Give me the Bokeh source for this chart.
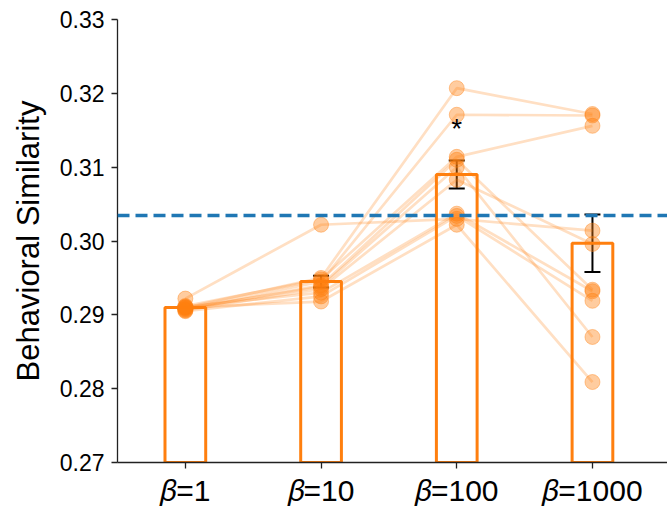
from bokeh.plotting import figure
from bokeh.models import Range1d, FixedTicker, Span, Whisker, ColumnDataSource, TeeHead, Label
from bokeh.embed import file_html
from bokeh.resources import INLINE

# ---- data ----
categories = ["𝛽=1", "𝛽=10", "𝛽=100", "𝛽=1000"]
beta1 = [0.2922, 0.2910, 0.2908, 0.2912, 0.2907, 0.2909, 0.2906, 0.2911, 0.2905, 0.2910]
beta10 = [0.3022, 0.2950, 0.2945, 0.2948, 0.2940, 0.2938, 0.2935, 0.2930, 0.2925, 0.2918]
beta100 = [0.3030, 0.3207, 0.3171, 0.3114, 0.3110, 0.3100, 0.3083, 0.3037, 0.3034, 0.3022]
beta1000 = [0.3014, 0.3172, 0.3170, 0.3156, 0.2934, 0.2870, 0.2996, 0.2932, 0.2919, 0.2809]
bar_means = [0.2910, 0.2945, 0.3090, 0.2997]
bar_errs = [0.0001, 0.0008, 0.0019, 0.0039]
baseline = 0.30344
sig_labels = ["", "", "*", ""]
sig_y = [0.3152, 0.3152, 0.3152, 0.3152]
y_ticks = [0.27, 0.28, 0.29, 0.30, 0.31, 0.32, 0.33]

ORANGE = "#ff7f0e"
BLUE = "#1f77b4"
FONT = "Liberation Sans"

xpos = list(range(len(categories)))
groups = [beta1, beta10, beta100, beta1000]

p = figure(width=667, height=516, output_backend="svg", toolbar_location=None,
           x_range=Range1d(-0.5, 3.553), y_range=Range1d(0.27, 0.33),
           min_border_left=117, min_border_right=0, min_border_top=19, min_border_bottom=54)
p.outline_line_color = None
p.grid.visible = False
p.background_fill_color = "white"
p.border_fill_color = "white"

# subject lines
n = len(beta1)
xs = [xpos for _ in range(n)]
ys = [[g[i] for g in groups] for i in range(n)]
p.multi_line(xs=xs, ys=ys, line_color=ORANGE, line_alpha=0.25, line_width=2.7)

# bars
p.vbar(x=xpos, top=bar_means, bottom=0.0, width=0.3, fill_color=None,
       line_color=ORANGE, line_width=3)

# points
px, py = [], []
for j, g in enumerate(groups):
    px += [xpos[j]] * len(g)
    py += g
p.scatter(x=px, y=py, size=15, fill_color=ORANGE, fill_alpha=0.4,
          line_color=ORANGE, line_alpha=0.4, line_width=1)

# error bars
src = ColumnDataSource(dict(x=xpos,
                            upper=[m + e for m, e in zip(bar_means, bar_errs)],
                            lower=[m - e for m, e in zip(bar_means, bar_errs)]))
w = Whisker(source=src, base="x", upper="upper", lower="lower",
            line_color="black", line_width=2,
            upper_head=TeeHead(size=16, line_color="black", line_width=2),
            lower_head=TeeHead(size=16, line_color="black", line_width=2))
p.add_layout(w)

# baseline
p.add_layout(Span(location=baseline, dimension="width", line_color=BLUE,
                  line_width=3.5, line_dash="12 6"))

# significance marks
for j, s in enumerate(sig_labels):
    if s:
        p.add_layout(Label(x=xpos[j], y=sig_y[j], text=s, text_align="center",
                           text_baseline="middle", text_font_size="28px",
                           text_font=FONT, text_color="black"))

# axes
p.xaxis.ticker = FixedTicker(ticks=xpos)
p.xaxis.major_label_overrides = {i: c for i, c in enumerate(categories)}
p.yaxis.ticker = FixedTicker(ticks=y_ticks)
p.yaxis.major_label_overrides = {t: f"{t:.2f}" for t in y_ticks}
for ax in (p.xaxis, p.yaxis):
    ax.axis_line_color = "#222222"
    ax.axis_line_width = 1.3
    ax.major_tick_line_color = "#222222"
    ax.major_tick_line_width = 1.3
    ax.major_tick_out = 6
    ax.major_tick_in = 0
    ax.minor_tick_line_color = None
    ax.major_label_text_font = FONT
    ax.major_label_text_color = "black"
p.xaxis.major_label_text_font_size = "30px"
p.xaxis.major_label_standoff = 5
p.yaxis.major_label_text_font_size = "23px"
p.yaxis.major_label_standoff = 7
p.yaxis.axis_label = "Behavioral Similarity"
p.yaxis.axis_label_text_font = FONT
p.yaxis.axis_label_text_font_size = "31px"
p.yaxis.axis_label_text_font_style = "normal"
p.yaxis.axis_label_text_color = "black"
p.yaxis.axis_label_standoff = 11

open("out.html", "w").write(file_html(p, INLINE))
